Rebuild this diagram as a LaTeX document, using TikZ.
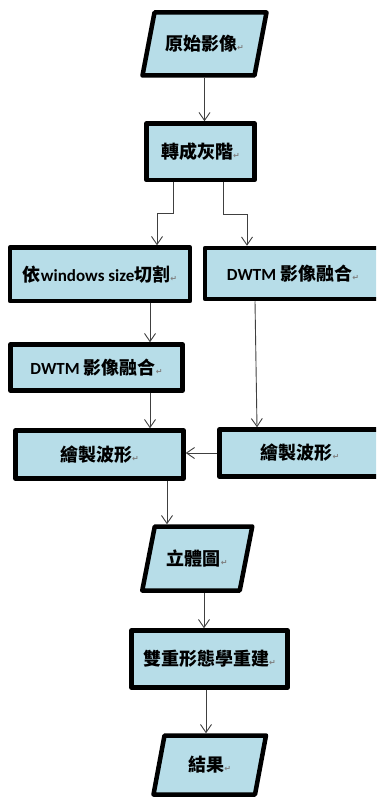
\documentclass[tikz,border=0pt]{standalone}
\usepackage{fontspec}
\newfontfamily\cjk{Noto Sans CJK TC}
\newfontfamily\lat{Carlito}
\newfontfamily\sym{DejaVu Sans}
\usetikzlibrary{arrows.meta}
\definecolor{boxfill}{HTML}{B7DDE8}
\definecolor{linegray}{HTML}{404040}
\newcommand{\rt}{{\sym\fontsize{8}{8}\selectfont\color{gray}↵}}
\newcommand{\la}[1]{{\lat\bfseries\fontsize{17}{20}\selectfont #1}}
\begin{document}
\begin{tikzpicture}[x=1pt,y=-1pt,
  txt/.style={inner sep=0pt, font=\cjk\bfseries\fontsize{18}{20}\selectfont},
  box/.style={txt, draw=black, line width=4.5pt, fill=boxfill, line join=round},
  pshape/.style={inner sep=0pt, outer sep=2.25pt},
  para/.style={draw=black, line width=4.5pt, fill=boxfill, line join=round},
  arr/.style={draw=linegray, line width=0.9pt, -{Straight Barb[length=8pt,width=11pt]}}]
\useasboundingbox (0,0) rectangle (376,799);
\clip (0,0) rectangle (376,799);

% parallelogram 1
\node[pshape, minimum width=112pt, minimum height=63pt] (src) at (204.5,44) {};
\draw[para] (src.center) ++(-50,-31.5) -- ++(112,0) -- ++(-12,63) -- ++(-112,0) -- cycle;
\node[txt] (srct) at (src.center) {原始影像\rt};

\node[box, minimum width=108pt, minimum height=56.5pt] (gray) at (200.5,151.75) {轉成灰階\rt};
\node[box, minimum width=180pt, minimum height=53.5pt] (cut) at (100,274.25) {依\la{windows size}切割\rt};
\node[box, minimum width=176pt, minimum height=51pt] (dwr) at (293,273.5) {\la{DWTM} 影像融合\rt};
\node[box, minimum width=172pt, minimum height=46pt] (dwl) at (96.5,367.5) {\la{DWTM} 影像融合\rt};
\node[box, minimum width=168pt, minimum height=48pt] (wl) at (99.5,454.5) {繪製波形\rt};
\node[box, minimum width=161pt, minimum height=47pt] (wr) at (300,453) {繪製波形\rt};

% parallelogram 2
\node[pshape, minimum width=97.5pt, minimum height=64pt] (stereo) at (197.25,558.5) {};
\draw[para] (stereo.center) ++(-42.5,-32) -- ++(97.5,0) -- ++(-12.5,64) -- ++(-97.5,0) -- cycle;
\node[txt] (stereot) at (stereo.center) {立體圖\rt};

\node[box, minimum width=156pt, minimum height=57pt] (mor) at (209.5,659) {雙重形態學重建\rt};

% parallelogram 3
\node[pshape, minimum width=101.5pt, minimum height=59pt] (res) at (209.75,765) {};
\draw[para] (res.center) ++(-45.25,-29.5) -- ++(101.5,0) -- ++(-11,59) -- ++(-101.5,0) -- cycle;
\node[txt] (rest) at (res.center) {結果\rt};

% connectors
\draw[arr] (src.south) -- (src.south |- gray.north);
\draw[arr] ([xshift=-27.5pt]gray.south) -- ++(0,31) -| ([xshift=57pt]cut.north);
\draw[arr] ([xshift=22.5pt]gray.south) -- ++(0,32) -| ([xshift=-46pt]dwr.north);
\coordinate (c4) at ([xshift=50pt]cut.south);
\draw[arr] (c4) -- (c4 |- dwl.north);
\draw[arr] ([xshift=-38pt]dwr.south) -- ([xshift=-43pt]wr.north);
\coordinate (c6) at ([xshift=53.5pt]dwl.south);
\draw[arr] (c6) -- (c6 |- wl.north);
\draw[arr] (wr.west) -- (wr.west -| wl.east);
\coordinate (c8) at ([xshift=67.5pt]wl.south);
\draw[arr] (c8) -- (c8 |- stereo.north);
\coordinate (c9) at ([xshift=6.75pt]stereo.south);
\draw[arr] (c9) -- (c9 |- mor.north);
\coordinate (c10) at ([xshift=-3.5pt]mor.south);
\draw[arr] (c10) -- (c10 |- res.north);
\end{tikzpicture}
\end{document}
